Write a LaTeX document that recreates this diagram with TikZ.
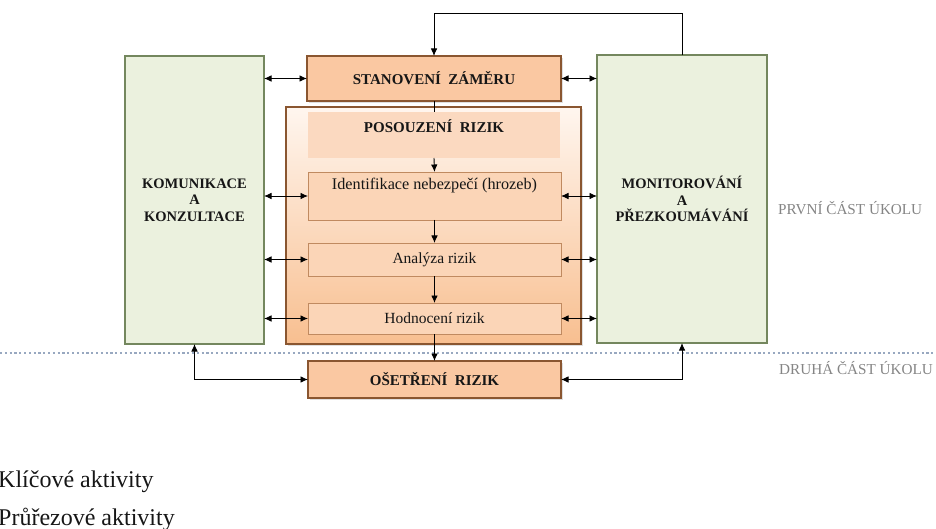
\documentclass[tikz,border=0pt]{standalone}
\usepackage{fontspec}
\setmainfont{Liberation Serif}
\usetikzlibrary{shadows,arrows.meta}
\definecolor{gfill}{HTML}{EBF1DE}
\definecolor{gdraw}{HTML}{74875E}
\definecolor{ofill}{HTML}{FAC8A2}
\definecolor{odraw}{HTML}{8A5630}
\definecolor{ifill}{HTML}{FBD5B7}
\definecolor{idraw}{HTML}{C08A60}
\definecolor{hfill}{HTML}{FBD9C0}
\definecolor{otop}{HTML}{FFF6EF}
\definecolor{obot}{HTML}{F8BF90}
\definecolor{dotc}{HTML}{98A8C0}
\definecolor{txt}{HTML}{161616}
\definecolor{side}{HTML}{858585}
\begin{document}
\begin{tikzpicture}[x=1pt,y=-1pt,
  base/.style={inner sep=0pt, outer sep=0pt, align=center, text=txt},
  gbox/.style={base, draw=gdraw, fill=gfill, line width=1.5pt,
    font=\fontsize{14.5}{16.5}\selectfont\bfseries},
  obox/.style={base, draw=odraw, fill=ofill, line width=1.5pt,
    drop shadow={opacity=0.25, shadow xshift=2pt, shadow yshift=-2pt},
    font=\fontsize{15}{17}\selectfont\bfseries},
  ibox/.style={base, draw=idraw, fill=ifill, line width=0.8pt,
    font=\fontsize{15.5}{17}\selectfont},
  conn/.style={line width=0.9pt, black},
  arr/.style={conn, -{Latex[length=7.5pt,width=6.5pt]}},
  darr/.style={conn, {Latex[length=7.5pt,width=6.5pt]}-{Latex[length=7.5pt,width=6.5pt]}},
  sidelbl/.style={text=side, font=\fontsize{15.2}{16}\selectfont, anchor=west, inner sep=0pt},
  legend/.style={text=txt, font=\fontsize{24}{26}\selectfont, anchor=base west, inner sep=0pt}
]
\useasboundingbox (0,0) rectangle (936,529);

% outer assessment box
\node[base, draw=odraw, line width=1.5pt, top color=otop, bottom color=obot,
  drop shadow={opacity=0.25, shadow xshift=2pt, shadow yshift=-2pt},
  minimum width=295pt, minimum height=237pt] (pos) at (433.5,225.5) {};
\node[base, fill=hfill, minimum width=252pt, minimum height=46pt,
  label={[text=txt, font=\fontsize{15}{17}\selectfont\bfseries, anchor=north, yshift=-4pt]north:{POSOUZENÍ\enspace RIZIK}}]
  (hdr) at (434,135) {};

\node[gbox, minimum width=139pt, minimum height=288pt] (kom) at (194.5,200)
  {KOMUNIKACE\\A\\KONZULTACE};
\node[gbox, minimum width=170pt, minimum height=288pt] (mon) at (682,199)
  {MONITOROVÁNÍ\\A\\PŘEZKOUMÁVÁNÍ};

\node[obox, minimum width=254pt, minimum height=45pt] (stan) at (434,78.5) {STANOVENÍ\enspace ZÁMĚRU};
\node[obox, minimum width=253pt, minimum height=37pt] (ose) at (434.5,379.5) {OŠETŘENÍ\enspace RIZIK};

\node[ibox, minimum width=253pt, minimum height=48pt,
  label={[text=txt, font=\fontsize{16.2}{17}\selectfont, anchor=north, yshift=-3pt]north:{Identifikace nebezpečí (hrozeb)}}]
  (ident) at (434.5,196) {};
\node[ibox, minimum width=253pt, minimum height=33pt] (anal) at (434.5,259.5) {Analýza rizik};
\node[ibox, minimum width=253pt, minimum height=31pt] (hodn) at (434.5,318.5) {Hodnocení rizik};

% dotted separator
\coordinate (dl) at (0,353);
\coordinate (dr) at (936,353);
\draw[dotc, line width=2.2pt, dash pattern=on 2.2pt off 2.6pt] (dl) -- (dr);

% side labels
\node[sidelbl] (prvni) at (778,208) {PRVNÍ ČÁST ÚKOLU};
\node[sidelbl] (druha) at (779,368) {DRUHÁ ČÁST ÚKOLU};

% connectors
\coordinate (fb1) at (682,13);
\coordinate (fb2) at (434,13);
\draw[arr] (mon.north) -- (fb1) -- (fb2) -- (stan.north);
\draw[darr] (kom.east |- stan.west) -- (stan.west);
\draw[darr] (stan.east) -- (mon.west |- stan.east);
\draw[conn] (stan.south) -- (hdr.north);
\draw[arr] (hdr.south) -- (ident.north);
\draw[arr] (ident.south) -- (anal.north);
\draw[arr] (anal.south) -- (hodn.north);
\draw[arr] (hodn.south) -- (ose.north);
\foreach \n in {ident,anal,hodn}{
  \draw[darr] (kom.east |- \n.west) -- (\n.west);
  \draw[darr] (\n.east) -- (mon.west |- \n.east);
}
\draw[darr] (kom.south) |- (ose.west);
\draw[darr] (mon.south) |- (ose.east);

% legend
\node[legend] (k1) at (-2,487) {Klíčové aktivity};
\node[legend] (k2) at (-2,525) {Průřezové aktivity};
\end{tikzpicture}
\end{document}
